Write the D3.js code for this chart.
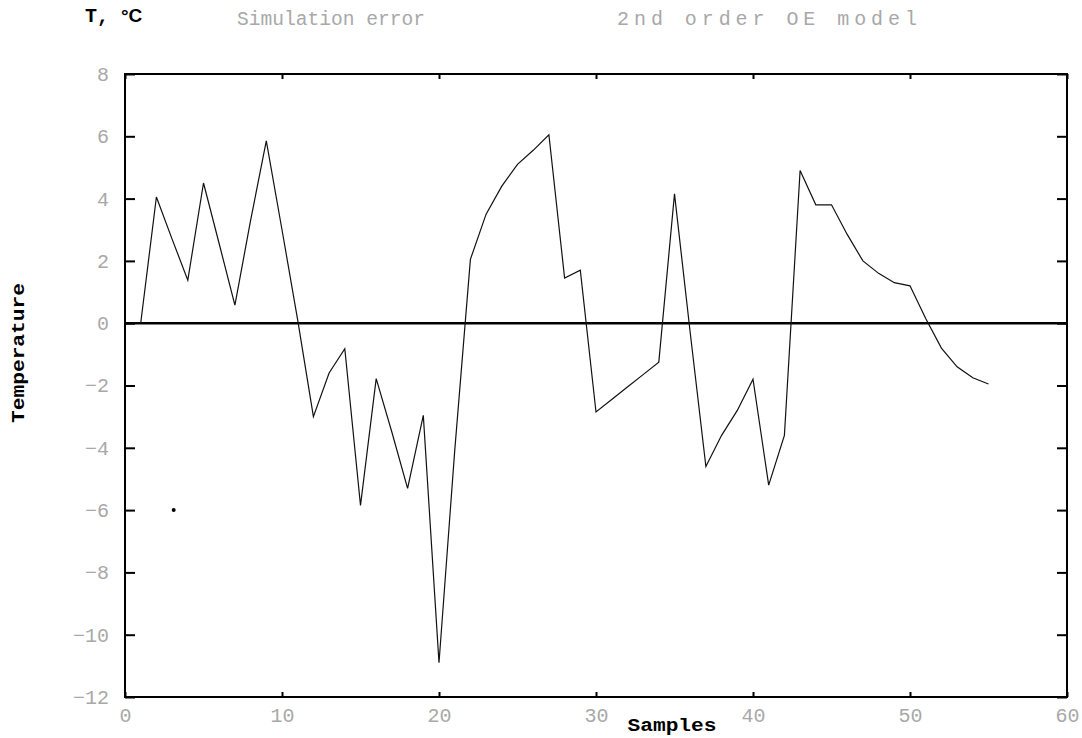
<!DOCTYPE html>
<html>
<head>
<meta charset="utf-8">
<script src="https://cdn.jsdelivr.net/npm/d3@7"></script>
<style>
  html, body { margin: 0; padding: 0; background: #fff; }
  svg { display: block; }
</style>
</head>
<body>
<div id="chart"></div>
<script>
// ---- data ----
const samples = [1,2,3,4,5,6,7,8,9,10,11,12,13,14,15,16,17,18,19,20,21,22,23,24,25,26,27,28,29,30,31,32,33,34,35,36,37,38,39,40,41,42,43,44,45,46,47,48,49,50,51,52,53,54,55];
const errorValues = [0,4.05,2.7,1.38,4.5,2.55,0.58,3.3,5.85,3.0,0.1,-3.0,-1.6,-0.82,-5.85,-1.78,-3.5,-5.3,-2.96,-10.9,-4.1,2.05,3.5,4.4,5.1,5.55,6.05,1.45,1.7,-2.85,-2.45,-2.05,-1.65,-1.25,4.15,-0.3,-4.6,-3.6,-2.8,-1.8,-5.2,-3.6,4.9,3.8,3.8,2.85,2.0,1.6,1.3,1.2,0.15,-0.8,-1.4,-1.75,-1.95];
const xTicks = [0,10,20,30,40,50,60];
const yTicks = [8,6,4,2,0,-2,-4,-6,-8,-10,-12];
const strayX = [3.1];
const strayY = [-6.0];
const titleLeft = "Simulation error";
const titleRight = "2nd order OE model";
const unitLabel = "T,";
const unitDeg = "°C";
const xLabel = "Samples";
const yLabel = "Temperature";

// ---- layout ----
const W = 1082, H = 738;
const x0 = 125, x1 = 1067, y0 = 74, y1 = 697;

const svg = d3.select("#chart").append("svg").attr("width", W).attr("height", H);

const x = d3.scaleLinear().domain([0, 60]).range([x0, x1]);
const y = d3.scaleLinear().domain([-12, 8]).range([y1, y0]);

const tickFont = "'Liberation Mono', 'DejaVu Sans Mono', monospace";
const tickColor = "#a8a8a8";

// axes
const gL = svg.append("g").attr("transform", `translate(${x0},0)`)
  .call(d3.axisLeft(y).tickValues(yTicks).tickSize(-10).tickPadding(16)
    .tickFormat(d => d < 0 ? "\u2212" + Math.abs(d) : d));
const gR = svg.append("g").attr("transform", `translate(${x1},0)`)
  .call(d3.axisRight(y).tickValues(yTicks).tickSize(-10).tickFormat(""));
const gB = svg.append("g").attr("transform", `translate(0,${y1})`)
  .call(d3.axisBottom(x).tickValues(xTicks).tickSize(-5).tickPadding(7));
const gT = svg.append("g").attr("transform", `translate(0,${y0})`)
  .call(d3.axisTop(x).tickValues(xTicks).tickSize(-5).tickFormat(""));

[gL, gR, gB, gT].forEach(g => {
  g.select(".domain").remove();
  g.selectAll(".tick line").attr("stroke", "#000").attr("stroke-width", 2);
  g.selectAll(".tick text").attr("fill", tickColor).attr("font-family", tickFont)
    .attr("font-size", 20);
});
gB.selectAll(".tick text").attr("dy", "0.9em");

// frame
svg.append("rect").attr("x", x0).attr("y", y0).attr("width", x1 - x0).attr("height", y1 - y0)
  .attr("fill", "none").attr("stroke", "#000").attr("stroke-width", 2);

// zero line
svg.append("line").attr("x1", x(0)).attr("x2", x(60)).attr("y1", y(0)).attr("y2", y(0))
  .attr("stroke", "#000").attr("stroke-width", 2.6);

// data line
const pts = samples.map((s, i) => [s, errorValues[i]]);
svg.append("path").datum(pts)
  .attr("fill", "none").attr("stroke", "#111").attr("stroke-width", 1.2)
  .attr("d", d3.line().x(d => x(d[0])).y(d => y(d[1])));

// stray dot
svg.selectAll(".stray").data(strayX).enter().append("circle")
  .attr("cx", d => x(d)).attr("cy", (d, i) => y(strayY[i])).attr("r", 2).attr("fill", "#000");

// titles
const titleFont = "'Liberation Mono', monospace";
svg.append("text").attr("x", 237).attr("y", 25).attr("font-family", titleFont)
  .attr("font-size", 20).attr("fill", tickColor)
  .attr("textLength", 188).attr("lengthAdjust", "spacingAndGlyphs").text(titleLeft);
svg.append("text").attr("x", 617).attr("y", 25).attr("font-family", titleFont)
  .attr("font-size", 20).attr("fill", tickColor)
  .attr("textLength", 300).attr("lengthAdjust", "spacing").text(titleRight);

const unit = svg.append("text").attr("x", 85).attr("y", 22).attr("fill", "#000");
unit.append("tspan").attr("font-family", "'Liberation Mono', monospace").attr("font-weight", "bold")
  .attr("font-size", 20).text(unitLabel);
unit.append("tspan").attr("dx", 12).attr("font-family", "'Liberation Sans', Arial, sans-serif")
  .attr("font-weight", "bold").attr("font-size", 19).text(unitDeg);

svg.append("text").attr("x", 672).attr("y", 731).attr("text-anchor", "middle")
  .attr("font-family", "'Liberation Mono', monospace").attr("font-weight", "bold")
  .attr("font-size", 19).attr("textLength", 89).attr("lengthAdjust", "spacingAndGlyphs").text(xLabel);

svg.append("text").attr("transform", "translate(24,353) rotate(-90)").attr("text-anchor", "middle")
  .attr("font-family", "'Liberation Mono', monospace").attr("font-weight", "bold")
  .attr("font-size", 18).attr("textLength", 140).attr("lengthAdjust", "spacingAndGlyphs").text(yLabel);
</script>
</body>
</html>
